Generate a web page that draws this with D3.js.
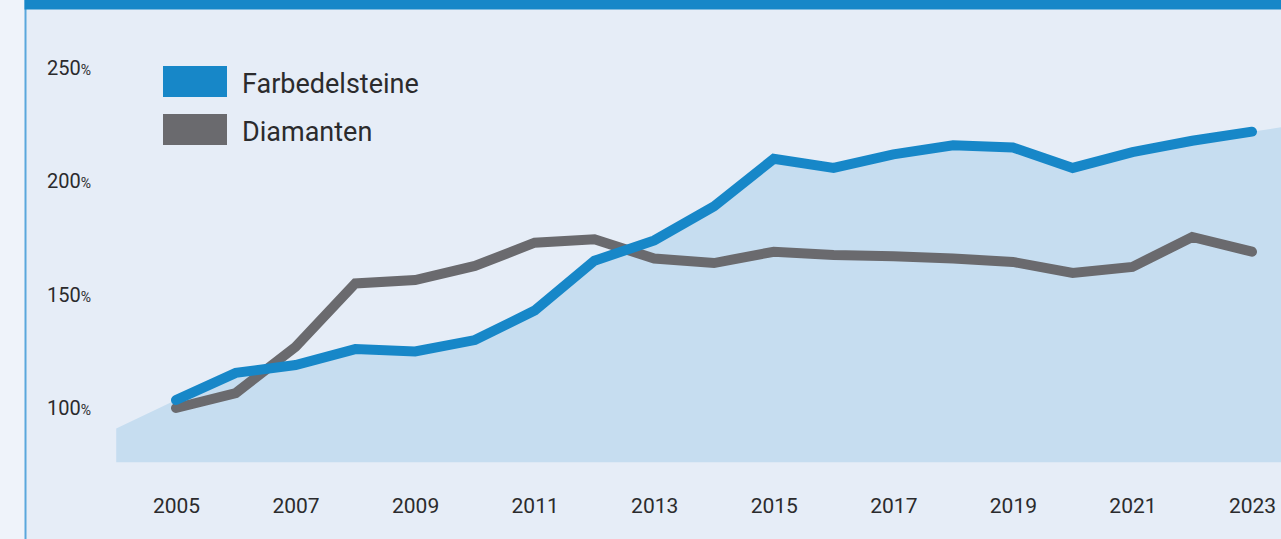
<!DOCTYPE html>
<html>
<head>
<meta charset="utf-8">
<script src="https://cdn.jsdelivr.net/npm/d3@7"></script>
<style>
  html, body { margin: 0; padding: 0; background: #eff3fa; }
  svg { display: block; font-family: Roboto, "Liberation Sans", sans-serif; }
</style>
</head>
<body>
<div id="chart"></div>
<script>
var svgWidth = 1281;
var svgHeight = 539;

// data (index, 2005 = 100 %)
var years = [2005, 2006, 2007, 2008, 2009, 2010, 2011, 2012, 2013, 2014,
             2015, 2016, 2017, 2018, 2019, 2020, 2021, 2022, 2023];
var farbedelsteine = [103.5, 115.5, 119, 126, 125, 130, 143, 165, 174, 189,
                      210, 206, 212, 216, 215, 206, 213, 218, 222];
var diamanten = [100, 106.6, 127, 155, 156.5, 162.7, 173, 174.5, 166, 164,
                 169, 167.5, 167, 166, 164.5, 159.6, 162.3, 175.5, 169];
// background area runs a bit past both ends of the series
var areaEdgeYears = [2004, 2024];
var areaEdgeValues = [91, 226];
var areaBase = 76;

var xTicks = [2005, 2007, 2009, 2011, 2013, 2015, 2017, 2019, 2021, 2023];
var yTicks = [100, 150, 200, 250];
var seriesNames = ["Farbedelsteine", "Diamanten"];
var seriesColors = ["#1787c8", "#6a6a6e"];

var svg = d3.select("#chart")
  .append("svg")
  .attr("width", svgWidth)
  .attr("height", svgHeight);

// panel + frame
svg.append("rect")
  .attr("x", 26).attr("y", 0)
  .attr("width", svgWidth - 26).attr("height", svgHeight)
  .attr("fill", "#e6edf7");
svg.append("rect")
  .attr("x", 24.5).attr("y", 0)
  .attr("width", 2).attr("height", svgHeight)
  .attr("fill", "#5aa7dc");
svg.append("rect")
  .attr("x", 24.5).attr("y", 0)
  .attr("width", svgWidth - 24.5).attr("height", 9.5)
  .attr("fill", "#1787c8");

var x = d3.scaleLinear().domain([2005, 2023]).range([176, 1252]);
var y = d3.scaleLinear().domain([100, 250]).range([408, 68.25]);

var areaData = [{ year: areaEdgeYears[0], value: areaEdgeValues[0] }]
  .concat(years.map((yr, i) => ({ year: yr, value: farbedelsteine[i] })))
  .concat([{ year: areaEdgeYears[1], value: areaEdgeValues[1] }]);

var area = d3.area()
  .x(d => x(d.year))
  .y0(y(areaBase))
  .y1(d => y(d.value));

svg.append("path")
  .datum(areaData)
  .attr("d", area)
  .attr("fill", "#c6ddf0");

// axes
var xAxis = d3.axisBottom(x)
  .tickValues(xTicks)
  .tickFormat(d3.format("d"))
  .tickSize(0)
  .tickPadding(0);

var gx = svg.append("g")
  .attr("transform", "translate(0, 498)")
  .call(xAxis);
gx.select(".domain").remove();
gx.selectAll("text")
  .attr("fill", "#2b2b2d")
  .style("font-size", "21px")
  .style("font-family", "Roboto, sans-serif");

var yAxis = d3.axisRight(y)
  .tickValues(yTicks)
  .tickFormat(d3.format("d"))
  .tickSize(0)
  .tickPadding(0);

var gy = svg.append("g")
  .attr("transform", "translate(47, 0)")
  .call(yAxis);
gy.select(".domain").remove();
gy.selectAll("text")
  .attr("fill", "#2b2b2d")
  .style("font-size", "20px")
  .style("font-family", "Roboto, sans-serif")
  .append("tspan")
  .style("font-size", "14px")
  .text("%");

// lines
var line = d3.line()
  .x((d, i) => x(years[i]))
  .y(d => y(d));

[diamanten, farbedelsteine].forEach(function(values, k) {
  svg.append("path")
    .datum(values)
    .attr("d", line)
    .attr("fill", "none")
    .attr("stroke", k === 0 ? seriesColors[1] : seriesColors[0])
    .attr("stroke-width", 10)
    .attr("stroke-linecap", "round")
    .attr("stroke-linejoin", "miter");
});

// legend
var legend = svg.append("g")
  .attr("transform", "translate(163, 66)");

var items = legend.selectAll("g")
  .data(seriesNames)
  .enter()
  .append("g")
  .attr("transform", (d, i) => `translate(0, ${i * 48})`);

items.append("rect")
  .attr("width", 64)
  .attr("height", 31)
  .attr("fill", (d, i) => seriesColors[i]);

items.append("text")
  .attr("x", 79)
  .attr("y", 27)
  .attr("fill", "#2b2b2d")
  .style("font-size", "27px")
  .text(d => d);
</script>
</body>
</html>
